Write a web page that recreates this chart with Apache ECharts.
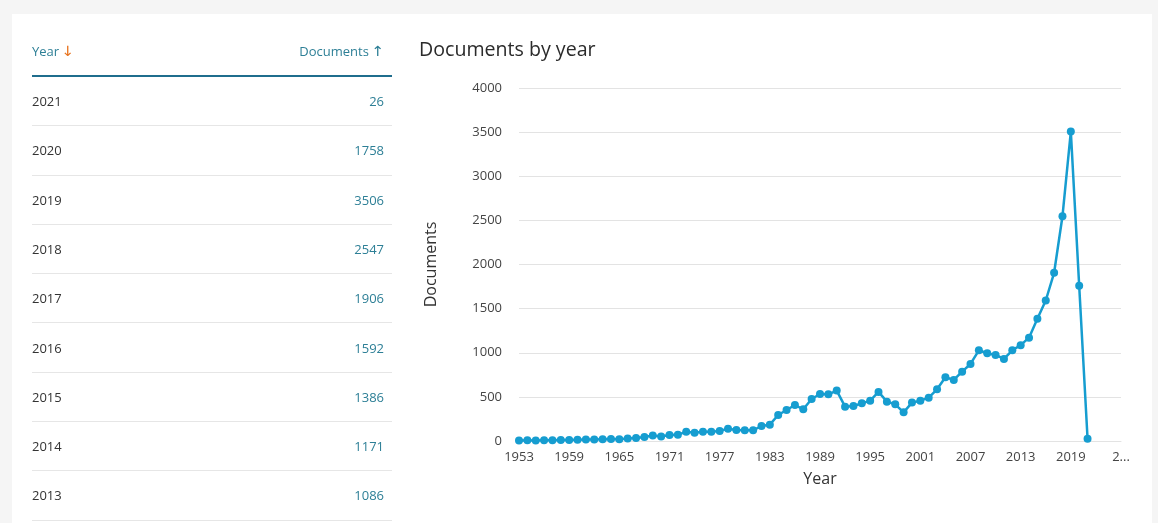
<!DOCTYPE html>
<html>
<head>
<meta charset="utf-8">
<script src="https://cdn.jsdelivr.net/npm/echarts@6/dist/echarts.min.js"></script>
<style>
  html, body { margin:0; padding:0; width:1158px; height:523px; overflow:hidden; background:#f5f5f5; font-family:"Open Sans", sans-serif; }
  #card { position:absolute; left:12px; top:14px; width:1140px; height:520px; background:#fff; }
  #chart { position:absolute; left:0; top:0; width:1158px; height:523px; }
  #table { position:absolute; left:32px; top:0; width:360px; height:523px; }
  .hdr { position:absolute; left:0; top:36px; width:360px; height:30px; line-height:30px; font-size:13px; color:#2d7f96; }
  .hdr .l { position:absolute; left:0; }
  .hdr .r { position:absolute; right:8px; }
  .arr { font-family:"DejaVu Sans", sans-serif; font-size:14px; display:inline-block; transform:scaleX(1.1); }
  .arrow-down { color:#e8731e; }
  .hline { position:absolute; left:0; top:75px; width:360px; height:2px; background:#1f6d8d; }
  .row { position:absolute; left:0; width:360px; border-bottom:1px solid #e6e6e6; font-size:13px; box-sizing:border-box; }
  .row .y { position:absolute; left:0; color:#333; }
  .row .v { position:absolute; right:8px; color:#2d7f96; }
</style>
</head>
<body>
<div id="card"></div>
<div id="chart"></div>
<div id="table"></div>
<script>
// ---- data ----
const years = [1953,1954,1955,1956,1957,1958,1959,1960,1961,1962,
  1963,1964,1965,1966,1967,1968,1969,1970,1971,1972,
  1973,1974,1975,1976,1977,1978,1979,1980,1981,1982,
  1983,1984,1985,1986,1987,1988,1989,1990,1991,1992,
  1993,1994,1995,1996,1997,1998,1999,2000,2001,2002,
  2003,2004,2005,2006,2007,2008,2009,2010,2011,2012,
  2013,2014,2015,2016,2017,2018,2019,2020,2021];
const extraAxisYears = [2022,2023,2024,2025];
const documents = [5,8,7,9,8,10,12,15,18,16,
  20,22,20,28,35,45,62,50,68,70,
  106,94,106,106,113,140,125,121,121,170,
  185,295,351,408,359,476,533,529,571,389,
  397,427,457,556,446,416,325,435,457,491,
  586,722,692,786,873,1028,994,975,930,1028,
  1086,1171,1386,1592,1906,2547,3506,1758,26];
const tableRowCount = 9;
const titleText = "Documents by year";
const yAxisName = "Documents";
const xAxisName = "Year";
const colYear = "Year";
const colDocs = "Documents";

// ---- table ----
const tbl = document.getElementById('table');
let html = '<div class="hdr"><span class="l">' + colYear + ' <span class="arr arrow-down">&#8595;</span></span>' +
           '<span class="r">' + colDocs + ' <span class="arr">&#8593;</span></span></div><div class="hline"></div>';
const rowH = 49.3;
for (let i = 0; i < tableRowCount; i++) {
  const idx = years.length - 1 - i;
  const top = 77 + i * rowH;
  html += '<div class="row" style="top:' + top + 'px;height:' + rowH + 'px;line-height:' + (rowH - 1) + 'px">' +
          '<span class="y">' + years[idx] + '</span><span class="v">' + documents[idx] + '</span></div>';
}
tbl.innerHTML = html;

// ---- chart ----
const axisYears = years.concat(extraAxisYears).map(String);
const chart = echarts.init(document.getElementById('chart'), null, { renderer: 'canvas' });
chart.setOption({
  animation: false,
  backgroundColor: 'transparent',
  title: {
    text: titleText, left: 414, top: 35,
    textStyle: { fontFamily: 'Open Sans', fontSize: 19.6, fontWeight: 'normal', color: '#2b2b2b' }
  },
  grid: { left: 519, right: 37, top: 88, bottom: 82 },
  xAxis: {
    type: 'category', data: axisYears, boundaryGap: false,
    name: xAxisName, nameLocation: 'middle', nameGap: 30,
    nameTextStyle: { fontFamily: 'Open Sans', fontSize: 16, color: '#333' },
    axisLine: { show: true, lineStyle: { color: '#e3e3e3' } },
    axisTick: { show: false },
    axisLabel: {
      interval: 5, margin: 10, fontFamily: 'Open Sans', fontSize: 13, color: '#444',
      formatter: function (v, i) { return i === axisYears.length - 1 ? '2...' : v; }
    },
    splitLine: { show: false }
  },
  yAxis: {
    type: 'value', min: 0, max: 4000, interval: 500,
    name: yAxisName, nameLocation: 'middle', nameGap: 80, nameRotate: 90,
    nameTextStyle: { fontFamily: 'Open Sans', fontSize: 16, color: '#333' },
    axisLine: { show: false }, axisTick: { show: false },
    axisLabel: { margin: 17, fontFamily: 'Open Sans', fontSize: 13, color: '#444',
      formatter: function (v) { return String(v); } },
    splitLine: { lineStyle: { color: '#e3e3e3', width: 1 } }
  },
  series: [{
    type: 'line', data: documents,
    symbol: 'circle', symbolSize: 8, showAllSymbol: true,
    lineStyle: { color: '#169dd0', width: 2.5 },
    itemStyle: { color: '#169dd0' }
  }]
});
</script>
</body>
</html>
